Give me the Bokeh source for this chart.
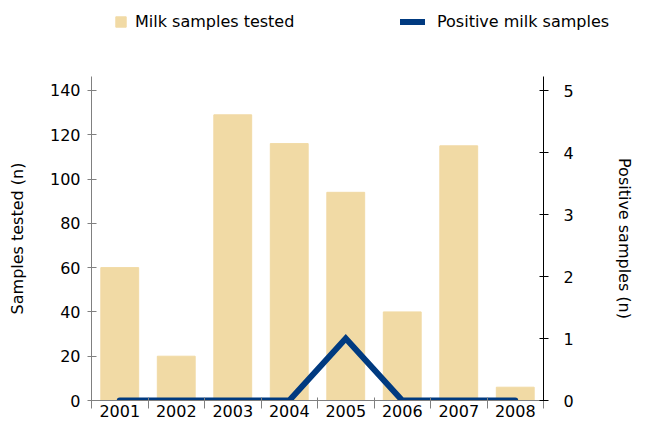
import math
from bokeh.plotting import figure
from bokeh.layouts import column
from bokeh.models import (ColumnDataSource, Range1d, LinearAxis, FixedTicker,
                          Legend, LegendItem)
from bokeh.embed import file_html
from bokeh.resources import INLINE

# ---- data ----
years = [2001, 2002, 2003, 2004, 2005, 2006, 2007, 2008]
year_labels = ["2001", "2002", "2003", "2004", "2005", "2006", "2007", "2008"]
samples_tested = [60, 20, 129, 116, 94, 40, 115, 6]
positive_samples = [0, 0, 0, 0, 1, 0, 0, 0]
left_ticks = [0, 20, 40, 60, 80, 100, 120, 140]
right_ticks = [0, 1, 2, 3, 4, 5]
series_names = ["Milk samples tested", "Positive milk samples"]

FONT = "DejaVu Sans"
BAR = "#F1DAA5"
LINE = "#003A80"
AXIS_GRAY = "#808080"

LEG_H = 40

src = ColumnDataSource(dict(year=years, tested=samples_tested, pos=positive_samples))

# ---------------- legend strip (its own small figure) ----------------
lf = figure(width=654, height=LEG_H, output_backend="svg", toolbar_location=None,
            x_range=Range1d(0, 1), y_range=Range1d(0, 1),
            min_border_left=0, min_border_right=0, min_border_top=0, min_border_bottom=0,
            x_axis_type=None, y_axis_type=None)
lf.frame_align = False
lf.outline_line_color = None
lf.xgrid.visible = False
lf.ygrid.visible = False
lf.border_fill_color = "white"
lf.background_fill_color = "white"
# same series as the chart; they fall outside this strip's ranges, only their legend swatches show
leg_bar = lf.vbar(x="year", top="tested", width=0.67, source=src, fill_color=BAR, line_color=BAR)
leg_line = lf.line(x="year", y="pos", source=src, line_color=LINE, line_width=6, line_cap="round")

def make_legend(item, loc, gw, gh, standoff):
    lg = Legend(items=[item], location=loc, orientation="horizontal",
                padding=0, margin=0, spacing=0, border_line_color=None,
                background_fill_alpha=0, glyph_width=gw, glyph_height=gh,
                label_standoff=standoff, label_text_font=FONT,
                label_text_font_size="16px", label_text_color="black",
                label_height=19)
    lf.add_layout(lg, "center")

make_legend(LegendItem(label=series_names[0], renderers=[leg_bar]), (114, 9), 13, 13, 8)
make_legend(LegendItem(label=series_names[1], renderers=[leg_line]), (400, 9), 25, 15, 12)

# ---------------- main chart ----------------
p = figure(width=654, height=429 - LEG_H, output_backend="svg", toolbar_location=None,
           x_range=Range1d(2000.5, 2008.5), y_range=Range1d(0, 146.3),
           min_border_left=91, min_border_right=111, min_border_top=76 - LEG_H,
           min_border_bottom=29, x_axis_type=None, y_axis_type=None)
p.frame_align = False
p.outline_line_color = None
p.xgrid.visible = False
p.ygrid.visible = False
p.background_fill_color = "white"
p.border_fill_color = "white"

p.extra_y_ranges = {"pos": Range1d(0, 5.226)}

p.vbar(x="year", top="tested", width=0.67, source=src,
       fill_color=BAR, line_color=BAR)
p.line(x="year", y="pos", source=src, y_range_name="pos",
       line_color=LINE, line_width=6, line_join="miter", line_cap="round")

# bottom axis
xaxis = LinearAxis(ticker=FixedTicker(ticks=years,
                                      minor_ticks=[y - 0.5 for y in years] + [years[-1] + 0.5]))
xaxis.major_label_overrides = {y: l for y, l in zip(years, year_labels)}
xaxis.major_tick_line_color = None
xaxis.major_tick_out = 0
xaxis.major_tick_in = 0
xaxis.minor_tick_line_color = AXIS_GRAY
xaxis.minor_tick_out = 8
xaxis.minor_tick_in = 3
xaxis.axis_line_color = AXIS_GRAY
xaxis.major_label_standoff = -4
xaxis.major_label_text_font = FONT
xaxis.major_label_text_font_size = "16px"
xaxis.major_label_text_color = "black"
p.add_layout(xaxis, "below")

# left axis
yaxis = LinearAxis(ticker=FixedTicker(ticks=left_ticks), axis_label="Samples tested (n)")
yaxis.axis_line_color = AXIS_GRAY
yaxis.major_tick_line_color = AXIS_GRAY
yaxis.major_tick_in = 5
yaxis.major_tick_out = 4
yaxis.minor_tick_line_color = None
yaxis.major_label_standoff = 7
yaxis.major_label_text_font = FONT
yaxis.major_label_text_font_size = "16px"
yaxis.major_label_text_color = "black"
yaxis.axis_label_text_font = FONT
yaxis.axis_label_text_font_size = "16px"
yaxis.axis_label_text_font_style = "normal"
yaxis.axis_label_text_color = "black"
yaxis.axis_label_standoff = 20
p.add_layout(yaxis, "left")

# right axis
raxis = LinearAxis(y_range_name="pos", ticker=FixedTicker(ticks=right_ticks),
                   axis_label="Positive samples (n)")
raxis.axis_line_color = "black"
raxis.major_tick_line_color = "black"
raxis.major_tick_in = 4
raxis.major_tick_out = 5
raxis.minor_tick_line_color = None
raxis.major_label_standoff = 15
raxis.major_label_text_font = FONT
raxis.major_label_text_font_size = "16px"
raxis.major_label_text_color = "black"
raxis.axis_label_text_font = FONT
raxis.axis_label_text_font_size = "16px"
raxis.axis_label_text_font_style = "normal"
raxis.axis_label_text_color = "black"
raxis.axis_label_standoff = 38
raxis.axis_label_orientation = "parallel"
p.add_layout(raxis, "right")

layout = column(lf, p, spacing=0)
open("out.html", "w").write(file_html(layout, INLINE))
